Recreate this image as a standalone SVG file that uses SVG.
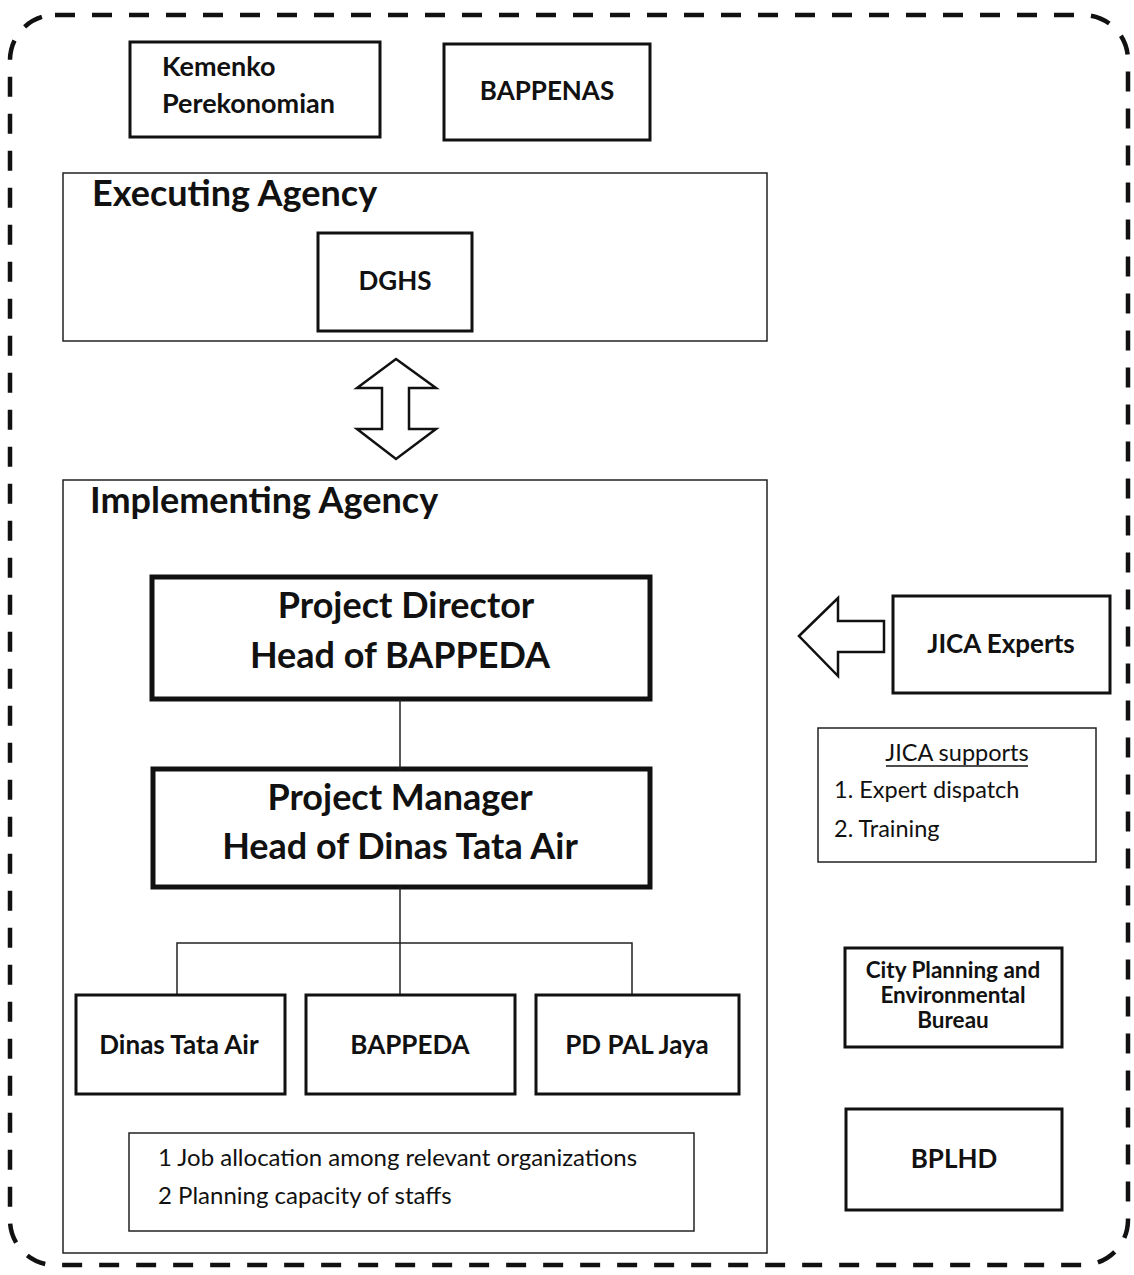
<svg xmlns="http://www.w3.org/2000/svg" width="1134" height="1275" viewBox="0 0 1134 1275">
<style>
text{font-family:Lato,"Liberation Sans",sans-serif;fill:#111}
.thick{fill:#fff;stroke:#111;stroke-width:3}
.heavy{fill:#fff;stroke:#111;stroke-width:5}
.thin{fill:none;stroke:#222;stroke-width:1.5}
.lbl{font-size:26px;font-weight:bold;text-anchor:middle}
.big{font-size:36px;font-weight:bold;text-anchor:middle}
.title{font-size:36px;font-weight:bold}
.small{font-size:24px}
.sup{font-size:23.5px}
.city{font-size:22.5px;font-weight:bold;text-anchor:middle}
.conn{stroke:#222;stroke-width:1.5;fill:none}
.arrow{fill:#fff;stroke:#111;stroke-width:2.5;stroke-linejoin:miter}
</style>
<rect width="1134" height="1275" fill="#fff"/>
<rect id="outer" x="10" y="15" width="1118" height="1250" rx="45" ry="45" fill="none" stroke="#111" stroke-width="4.5" stroke-dasharray="20 17"/>

<g id="kemenko"><rect class="thick" x="130" y="42" width="250" height="95"/>
<text x="162" y="76" font-size="27px" font-weight="bold">Kemenko</text><text x="162" y="113" font-size="27px" font-weight="bold">Perekonomian</text></g>
<g id="bappenas"><rect class="thick" x="444" y="44" width="206" height="96"/><text class="lbl" x="547" y="100">BAPPENAS</text></g>

<g id="executing"><rect class="thin" x="63" y="173" width="704" height="168"/><text class="title" x="92" y="206">Executing Agency</text></g>
<g id="dghs"><rect class="thick" x="318" y="233" width="154" height="98"/><text class="lbl" x="395" y="290">DGHS</text></g>

<g id="implementing"><rect class="thin" x="63" y="480" width="704" height="773"/><text class="title" x="90" y="513">Implementing Agency</text></g>

<g id="director"><rect class="heavy" x="152" y="577" width="498" height="122"/>
<text class="big" x="406" y="618">Project Director</text><text class="big" x="400" y="668">Head of BAPPEDA</text></g>
<g id="manager"><rect class="heavy" x="153" y="769" width="497" height="118"/>
<text class="big" x="400" y="810">Project Manager</text><text class="big" x="400" y="859">Head of Dinas Tata Air</text></g>

<g id="connectors">
<line class="conn" x1="400" y1="699" x2="400" y2="769"/>
<line class="conn" x1="400" y1="887" x2="400" y2="943"/>
<polyline class="conn" points="177,995 177,943 632,943 632,995"/>
<line class="conn" x1="400" y1="943" x2="400" y2="995"/>
<polygon class="arrow" points="396,359 436,388 409,388 409,429 436,429 396,459 357,429 382,429 382,388 357,388"/>
<polygon class="arrow" points="799,636 838,598 838,621 884,621 884,652 838,652 838,676"/>
</g>

<g id="dinas"><rect class="thick" x="76" y="995" width="209" height="99"/><text class="lbl" x="179" y="1054">Dinas Tata Air</text></g>
<g id="bappeda"><rect class="thick" x="306" y="995" width="209" height="99"/><text class="lbl" x="410" y="1054">BAPPEDA</text></g>
<g id="pdpal"><rect class="thick" x="536" y="995" width="203" height="99"/><text class="lbl" x="637" y="1054">PD PAL Jaya</text></g>

<g id="notes"><rect class="thin" x="129" y="1133" width="565" height="98"/>
<text class="small" x="158" y="1166">1 Job allocation among relevant organizations</text>
<text class="small" x="158" y="1204">2 Planning capacity of staffs</text></g>

<g id="jica-experts"><rect class="thick" x="893" y="596" width="217" height="97"/><text class="lbl" x="1001" y="653">JICA Experts</text></g>
<g id="jica-supports"><rect class="thin" x="818" y="728" width="278" height="134"/>
<text class="sup" x="957" y="761" text-anchor="middle">JICA supports</text>
<line x1="886" y1="766" x2="1028" y2="766" stroke="#111" stroke-width="1.3"/>
<text class="sup" x="834" y="798">1. Expert dispatch</text>
<text class="sup" x="834" y="837">2. Training</text></g>
<g id="city"><rect class="thick" x="845" y="948" width="217" height="99"/>
<text class="city" x="953" y="978">City Planning and</text>
<text class="city" x="953" y="1003">Environmental</text>
<text class="city" x="953" y="1028">Bureau</text></g>
<g id="bplhd"><rect class="thick" x="846" y="1109" width="216" height="101"/><text class="lbl" x="954" y="1168">BPLHD</text></g>
</svg>
